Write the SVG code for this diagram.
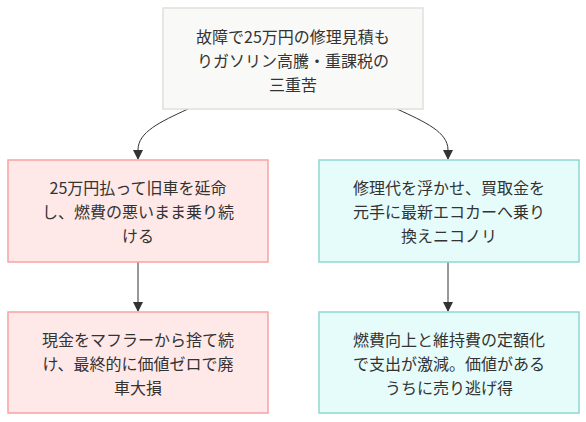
<svg xmlns="http://www.w3.org/2000/svg" width="586" height="422" viewBox="0 0 586 422">
<style>
text{font-family:"Noto Sans CJK JP","Noto Sans",sans-serif;font-size:16px;fill:#333;text-anchor:middle;dominant-baseline:central}
.top{fill:#f9f9f7;stroke:#e0e0e0;stroke-width:1.5}
.bad{fill:#ffe8e8;stroke:#f9a3a3;stroke-width:1.5}
.good{fill:#e6fcfa;stroke:#8fd8d2;stroke-width:1.5}
.edge{fill:none;stroke:#333;stroke-width:1}
</style>
<defs>
<marker id="arr" viewBox="0 0 10 10" refX="9" refY="5" markerWidth="10" markerHeight="10" markerUnits="userSpaceOnUse" orient="auto">
<path d="M0,0 L10,5 L0,10 z" fill="#333"/>
</marker>
</defs>
<g id="edges">
<path class="edge" d="M188,109 C160,122 138,132 138,150 L138,159" marker-end="url(#arr)"/>
<path class="edge" d="M397,109 C425,122 448,132 448,150 L448,159" marker-end="url(#arr)"/>
<path class="edge" d="M138,262 L138,311" marker-end="url(#arr)"/>
<path class="edge" d="M448,262 L448,311" marker-end="url(#arr)"/>
</g>
<g id="root">
<rect class="top" x="163" y="8" width="260" height="101"/>
<text x="293" y="36">故障で25万円の修理見積も</text>
<text x="293" y="60">りガソリン高騰・重課税の</text>
<text x="293" y="84">三重苦</text>
</g>
<g id="keep">
<rect class="bad" x="8" y="160" width="260" height="102"/>
<text x="138" y="187">25万円払って旧車を延命</text>
<text x="138" y="211">し、燃費の悪いまま乗り続</text>
<text x="138" y="235">ける</text>
</g>
<g id="switch">
<rect class="good" x="319" y="160" width="260" height="102"/>
<text x="449" y="187">修理代を浮かせ、買取金を</text>
<text x="449" y="211">元手に最新エコカーへ乗り</text>
<text x="449" y="235">換えニコノリ</text>
</g>
<g id="keepResult">
<rect class="bad" x="8" y="312" width="260" height="101"/>
<text x="138" y="339">現金をマフラーから捨て続</text>
<text x="138" y="363">け、最終的に価値ゼロで廃</text>
<text x="138" y="387">車大損</text>
</g>
<g id="switchResult">
<rect class="good" x="319" y="312" width="260" height="101"/>
<text x="449" y="339">燃費向上と維持費の定額化</text>
<text x="449" y="363">で支出が激減。価値がある</text>
<text x="449" y="387">うちに売り逃げ得</text>
</g>
</svg>
